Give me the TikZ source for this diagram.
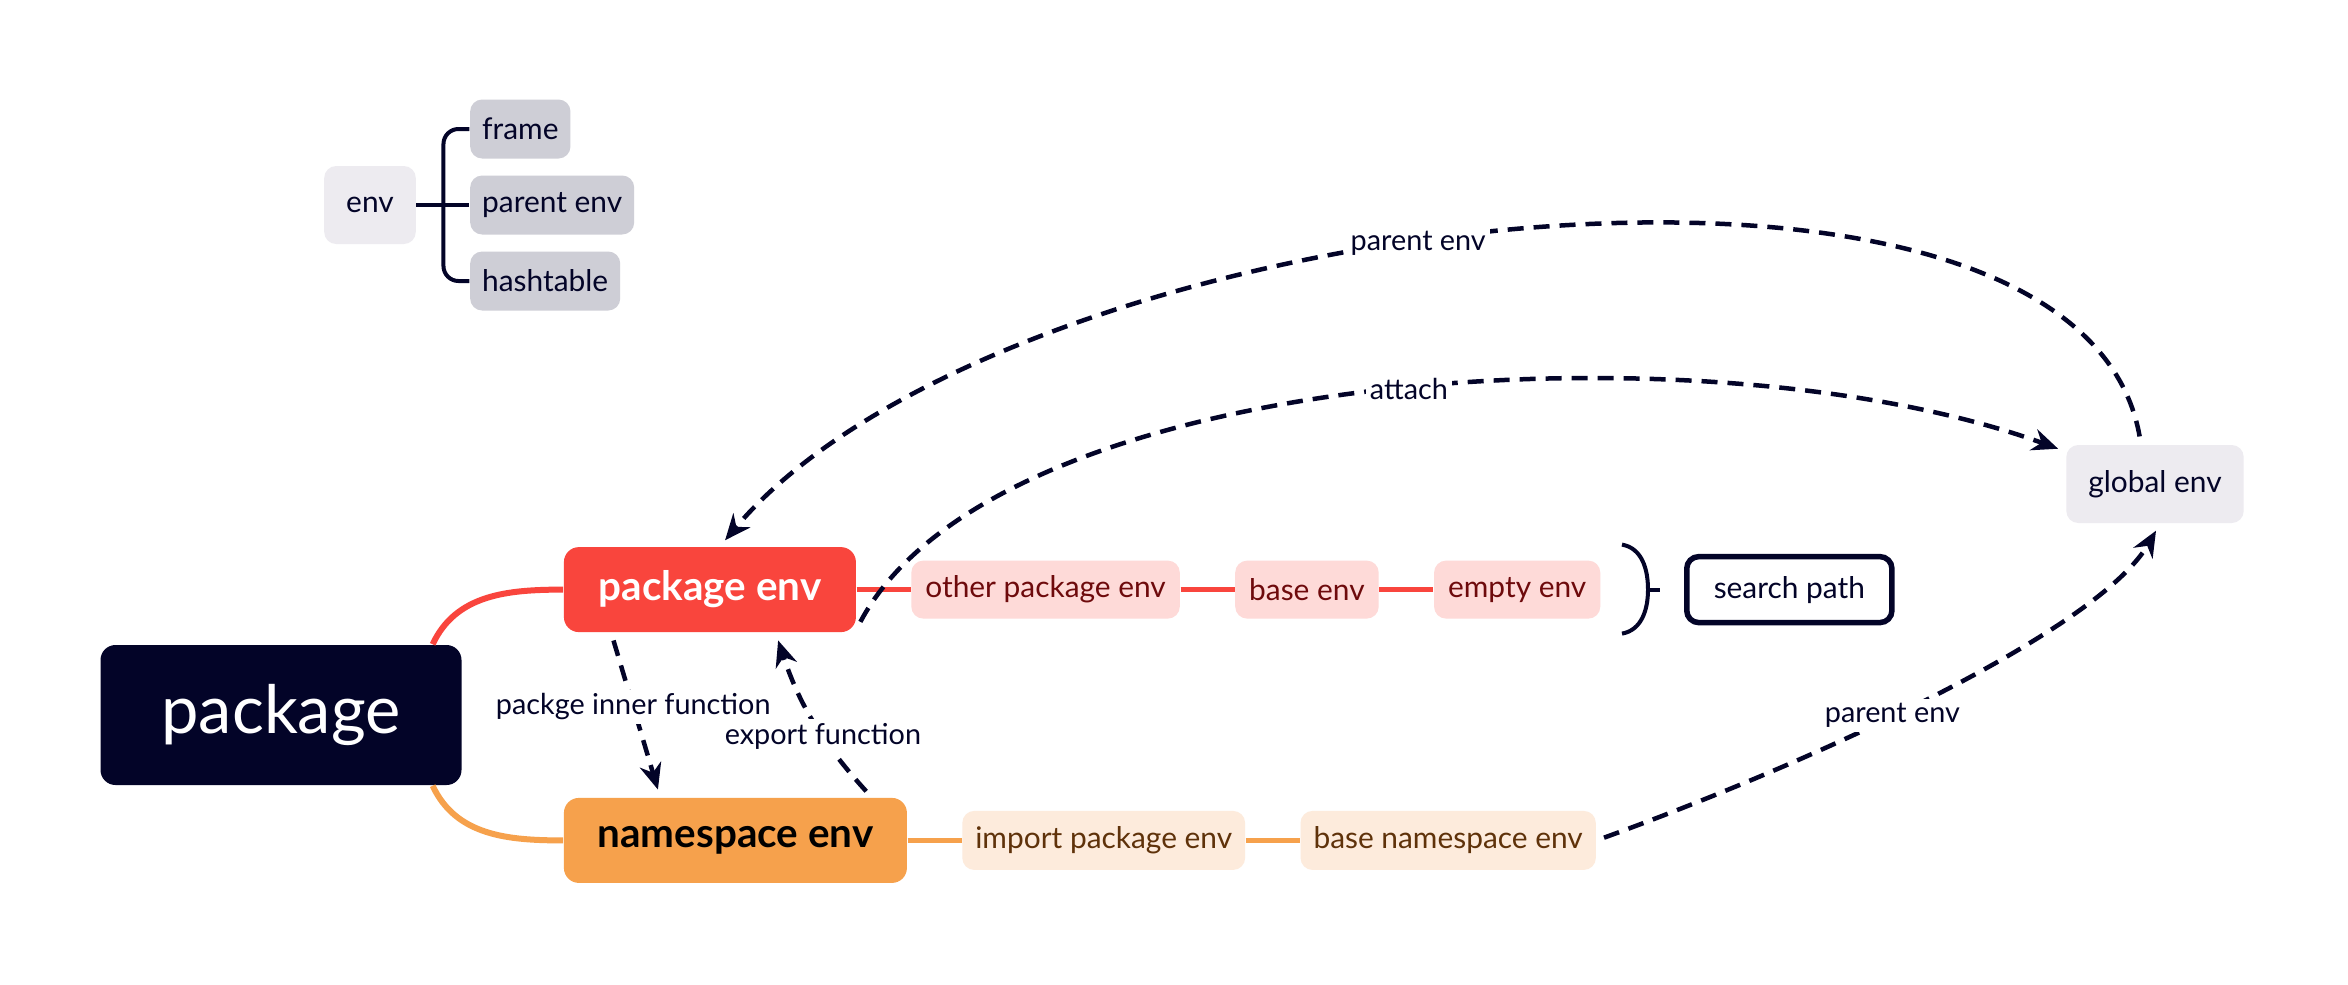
\documentclass[tikz,border=0pt]{standalone}
\usepackage{fontspec}
\setmainfont{Lato}
\usetikzlibrary{arrows.meta,positioning,calc}
\definecolor{ink}{RGB}{3,4,40}
\definecolor{pkgred}{RGB}{249,69,61}
\definecolor{redsoft}{RGB}{254,218,216}
\definecolor{redtext}{RGB}{110,10,12}
\definecolor{nsorange}{RGB}{246,161,76}
\definecolor{orangesoft}{RGB}{253,235,220}
\definecolor{orangetext}{RGB}{95,50,10}
\definecolor{envgray}{RGB}{237,235,240}
\definecolor{kidgray}{RGB}{206,206,214}

\begin{document}
\begin{tikzpicture}[
  x=1mm,y=1mm,
  font=\fontsize{8.5}{10}\selectfont,
  node distance=5.4mm,
  root/.style={fill=ink,text=white,rounded corners=1.5mm,minimum width=36.1mm,
               minimum height=14mm,font=\fontsize{19}{22}\selectfont},
  mainred/.style={fill=pkgred,text=white,rounded corners=1.5mm,minimum width=29.2mm,
                  minimum height=8.5mm,font=\fontsize{11.5}{13}\selectfont\bfseries},
  mainorange/.style={fill=nsorange,text=black,rounded corners=1.5mm,minimum width=34.3mm,
                     minimum height=8.5mm,font=\fontsize{11.5}{13}\selectfont\bfseries},
  subred/.style={fill=redsoft,text=redtext,rounded corners=1.2mm,inner xsep=1.4mm,minimum height=5.8mm},
  suborange/.style={fill=orangesoft,text=orangetext,rounded corners=1.2mm,inner xsep=1.3mm,minimum height=5.9mm},
  envbox/.style={fill=envgray,text=ink,rounded corners=1.2mm,inner xsep=2.2mm,minimum height=7.8mm},
  kid/.style={fill=kidgray,text=ink,rounded corners=1.2mm,inner xsep=1.2mm,minimum height=5.9mm},
  pathbox/.style={draw=ink,line width=0.55mm,rounded corners=1.2mm,text=ink,inner xsep=2.7mm,minimum height=6.6mm},
  redln/.style={pkgred,line width=0.45mm},
  orangeln/.style={nsorange,line width=0.45mm},
  treeln/.style={ink,line width=0.4mm},
  dasharr/.style={ink,line width=0.45mm,dash pattern=on 1.6mm off 1.0mm,
                  -{Stealth[length=2.6mm,width=2.2mm]},shorten <=0.8mm,shorten >=0.8mm},
  lbl/.style={fill=white,text=ink,inner sep=0.4mm,font=\fontsize{8.2}{9.5}\selectfont},
]
\fill[white] (0,0) rectangle (234.8,-98.4);
\useasboundingbox (0,0) rectangle (234.8,-98.4);
% Legend
\node[envbox] (env) at (37,-20.5) {env};
\node[kid,right=5.3mm of env] (kidparent) {parent env};
\node[kid,right=5.3mm of env,yshift=7.6mm] (frame) {frame};
\node[kid,right=5.3mm of env,yshift=-7.6mm] (hash) {hashtable};
\draw[treeln] (env.east) -- (kidparent.west);
\draw[treeln,rounded corners=1.5mm] (frame.west) -- ++(-2.6,0) |- (hash.west);
% Package
\node[root] (pkg) at (28.1,-71.5) {package};
\node[mainred,above right=1.15mm and 10.1mm of pkg] (pkgenv) {package env};
\node[mainorange,below right=1.15mm and 10.1mm of pkg] (nsenv) {namespace env};
\draw[redln,line width=0.6mm] (pkg.25) to[out=65,in=180] (pkgenv.west);
\draw[orangeln,line width=0.6mm] (pkg.-25) to[out=-65,in=180] (nsenv.west);
% search path
\node[subred,right=of pkgenv] (other) {other package env};
\node[subred,right=of other] (base) {base env};
\node[subred,right=of base] (empty) {empty env};
\draw[redln] (pkgenv.east) -- (other.west);
\draw[redln] (other.east) -- (base.west);
\draw[redln] (base.east) -- (empty.west);
\draw[treeln] ([xshift=2.1mm,yshift=4.5mm]empty.east) to[out=-10,in=90] ([xshift=4.7mm]empty.east)
  to[out=-90,in=10] ([xshift=2.1mm,yshift=-4.4mm]empty.east);
\draw[treeln] ([xshift=4.7mm]empty.east) -- ([xshift=5.9mm]empty.east);
\node[pathbox,right=8.3mm of empty] (search) {search path};
% Imports
\node[suborange,right=of nsenv] (import) {import package env};
\node[suborange,right=of import] (basens) {base namespace env};
\draw[orangeln] (nsenv.east) -- (import.west);
\draw[orangeln] (import.east) -- (basens.west);
% Global
\node[envbox] (global) at (215.5,-48.4) {global env};
% dashed links
\draw[dasharr] ([xshift=-1.4mm]global.north) .. controls +(100:37) and +(50:44) .. ([xshift=1mm]pkgenv.north)
  node[lbl,pos=0.55]{parent env};
\draw[dasharr] (pkgenv.-15) .. controls +(62:30) and +(160:38) .. (global.160)
  node[lbl,pos=0.52]{attach};
\draw[dasharr] (basens.east) .. controls +(20:25) and +(-120:12) .. ([xshift=0.5mm]global.south)
  node[lbl,pos=0.42]{parent env};
\draw[dasharr] ([xshift=4.8mm]pkgenv.south west) -- ([xshift=9.7mm]nsenv.north west)
  node[lbl,pos=0.45]{packge inner function};
\draw[dasharr] ([xshift=-3.6mm]nsenv.north east) to[bend left=12]
  node[lbl,pos=0.4]{export function} ([xshift=-8.1mm]pkgenv.south east);
\end{tikzpicture}
\end{document}
